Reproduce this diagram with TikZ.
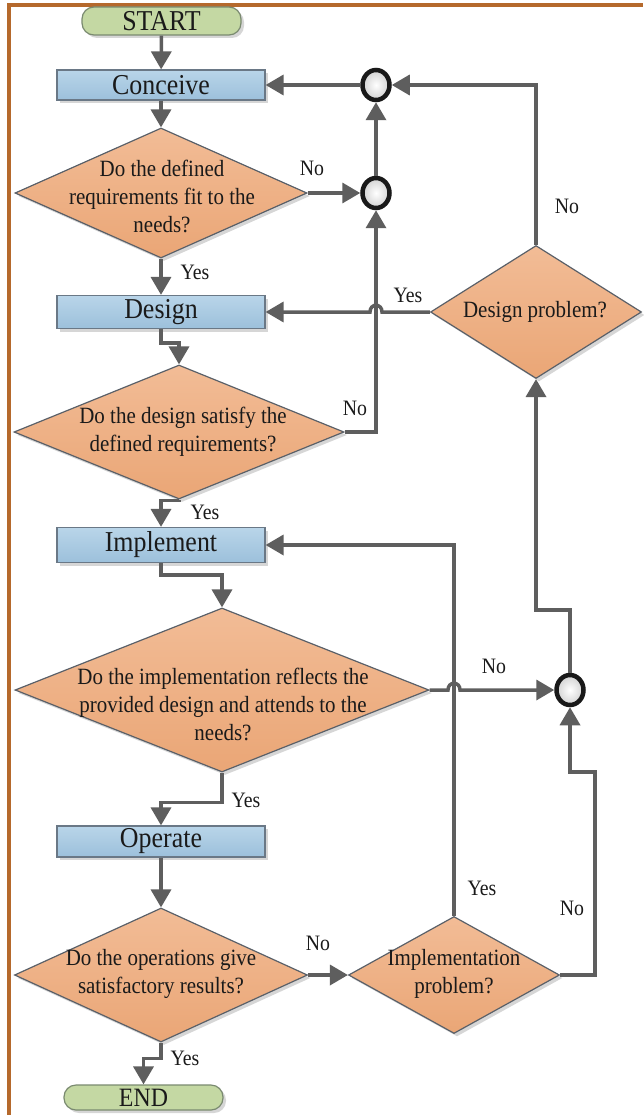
\documentclass[tikz,border=0pt]{standalone}
\usepackage{fontspec}
\setmainfont{Liberation Serif}[FakeStretch=0.9]
\usetikzlibrary{arrows.meta,shapes.geometric,shadows,calc}
\definecolor{lineg}{HTML}{5E5E5E}
\definecolor{frameb}{HTML}{B5692C}
\definecolor{boxb}{HTML}{6A7886}
\definecolor{boxtop}{HTML}{B9D5E9}
\definecolor{boxbot}{HTML}{9CC0DB}
\definecolor{diab}{HTML}{5A6068}
\definecolor{diatop}{HTML}{F2BC96}
\definecolor{diabot}{HTML}{EAA676}
\definecolor{termfill}{HTML}{C4D8A3}
\definecolor{termb}{HTML}{7A8A70}
\definecolor{txt}{HTML}{1A1A1A}
\begin{document}
\begin{tikzpicture}[x=1pt,y=-1pt,
  shad/.style={drop shadow={shadow xshift=3pt,shadow yshift=-3pt,fill=black!35,opacity=0.45}},
  flow/.style={draw=lineg,line width=3.5pt,-{Triangle[length=18pt,width=20pt]}},
  box/.style={rectangle,draw=boxb,line width=1.2pt,top color=boxtop,bottom color=boxbot,
    minimum width=208pt,inner sep=0pt,text=txt,font=\fontsize{28.8}{30}\selectfont,shad},
  dia/.style={diamond,draw=diab,line width=1.2pt,top color=diatop,bottom color=diabot,
    inner sep=0pt,shad},
  dtext/.style={align=center,text=txt,inner sep=0pt,font=\fontsize{23.3}{28}\selectfont},
  term/.style={rectangle,rounded corners=12pt,draw=termb,line width=1.2pt,fill=termfill,
    minimum width=159pt,inner sep=0pt,text=txt,shad},
  junc/.style={ellipse,draw=black!90,line width=4.5pt,inner color=white,outer color=black!18,
    minimum width=27pt,minimum height=30pt,inner sep=0pt},
  lbl/.style={text=txt,inner sep=0pt,font=\fontsize{22}{24}\selectfont}]
\useasboundingbox (0,0) rectangle (643,1115);
\fill[white] (0,0) rectangle (643,1115);
\draw[frameb,line width=3.5pt] (9,1115) -- (9,5) -- (643,5);

% nodes
\node[term,minimum height=28pt,font=\fontsize{28.8}{30}\selectfont] (start) at (161.5,21) {START};
\node[box,minimum height=30pt] (conceive) at (161,85) {Conceive};
\node[dia,minimum width=292pt,minimum height=130pt] (d1) at (161,193) {};
\node[dtext] (t1) at (162,196) {Do the defined\\requirements fit to the\\needs?};
\node[junc] (c1) at (376,85) {};
\node[junc] (c2) at (376,193) {};
\node[box,minimum height=33pt] (design) at (161,312) {Design};
\node[dia,minimum width=211pt,minimum height=133pt] (dp) at (536,312) {};
\node[dtext] (tdp) at (535,312) {Design problem?};
\node[dia,minimum width=330pt,minimum height=134pt] (d2) at (179,432) {};
\node[dtext] (t2) at (183,432) {Do the design satisfy the\\defined requirements?};
\node[box,minimum height=35pt] (implement) at (161,545) {Implement};
\node[dia,minimum width=414pt,minimum height=164pt] (d3) at (222,690) {};
\node[dtext] (t3) at (223,704) {Do the implementation reflects the\\provided design and attends to the\\needs?};
\node[junc] (c3) at (570,690) {};
\node[box,minimum height=31pt] (operate) at (161,841.5) {Operate};
\node[dia,minimum width=293pt,minimum height=134pt] (d4) at (161,975) {};
\node[dtext] (t4) at (161,974) {Do the operations give\\satisfactory results?};
\node[dia,minimum width=211pt,minimum height=117pt] (ip) at (454,975) {};
\node[dtext] (tip) at (454,974) {Implementation\\problem?};
\node[term,minimum height=25pt,font=\fontsize{26.5}{28}\selectfont] (stop) at (143.5,1097.5) {END};

% labels
\node[lbl] (l1) at (312,168) {No};
\node[lbl] (l2) at (195,272) {Yes};
\node[lbl] (l3) at (567,206) {No};
\node[lbl] (l4) at (408,295) {Yes};
\node[lbl] (l5) at (355,408) {No};
\node[lbl] (l6) at (205,512) {Yes};
\node[lbl] (l7) at (494,666) {No};
\node[lbl] (l8) at (246,800) {Yes};
\node[lbl] (l9) at (482,888) {Yes};
\node[lbl] (l10) at (572,908) {No};
\node[lbl] (l11) at (318,943) {No};
\node[lbl] (l12) at (185,1058) {Yes};

% crossing points
\coordinate (x1) at (c2.south |- dp.west);
\coordinate (x2) at (ip.north |- d3.east);

% connectors
\draw[flow] (start) -- (conceive);
\draw[flow] (conceive) -- (d1);
\draw[flow] (d1.east) -- (c2.west);
\draw[flow] (c2) -- (c1);
\draw[flow] (c1.west) -- (conceive.east);
\draw[flow] (dp.north) |- (c1.east);
\draw[flow] (d1.south) -- (design.north);
\draw[flow] (dp.west) -- ($(x1)+(6,0)$) .. controls ($(x1)+(6,-9)$) and ($(x1)+(-6,-9)$) .. ($(x1)+(-6,0)$) -- (design.east);
\draw[flow] (design.south) -- ++(0,14) -| (d2.north);
\draw[flow] (d2.east) -| (c2.south);
\draw[flow] (d2.south) -- ++(0,1) -| (implement.north);
\draw[flow] (implement.south) -- ++(0,12) -| (d3.north);
\draw[flow] (d3.east) -- ($(x2)+(-6,0)$) .. controls ($(x2)+(-6,-9)$) and ($(x2)+(6,-9)$) .. ($(x2)+(6,0)$) -- (c3.west);
\draw[flow] (c3.north) -- (c3.north |- 0,610) -| (dp.south);
\draw[flow] (ip.north) |- (implement.east);
\draw[flow] (ip.east) -- ++(35,0) -- ++(0,-203) -| (c3.south);
\draw[flow] (d3.south) -- ++(0,30) -| (operate.north);
\draw[flow] (operate) -- (d4);
\draw[flow] (d4.east) -- (ip.west);
\draw[flow] (d4.south) -- ++(0,16) -| (stop.north);
\end{tikzpicture}
\end{document}
